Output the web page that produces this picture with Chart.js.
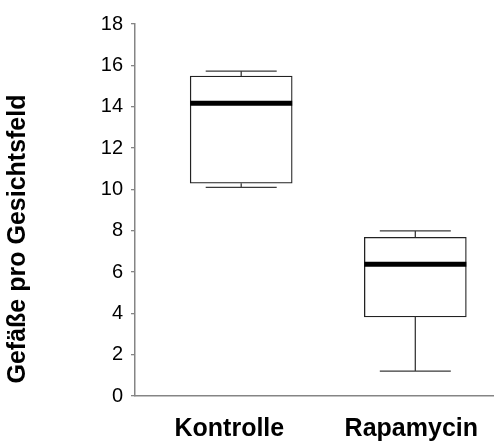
<!DOCTYPE html>
<html>
<head>
<meta charset="utf-8">
<script src="https://cdn.jsdelivr.net/npm/chart.js@4/dist/chart.umd.min.js"></script>
<style>
  html, body { margin: 0; padding: 0; background: #fff; }
  #wrap { width: 496px; height: 441px; }
</style>
</head>
<body>
<div id="wrap"><canvas id="c" width="496" height="441"></canvas></div>
<script>
// Box plot: vessels per field of view, control vs. rapamycin
const groups         = ['Kontrolle', 'Rapamycin'];
const positions      = [1, 2];
const labelPositions = [0.932, 1.977];
const minima         = [10.09, 1.20];
const q1             = [10.30, 3.83];
const medians        = [14.17, 6.37];
const q3             = [15.48, 7.68];
const maxima         = [15.72, 7.99];
const yTicks         = [0, 2, 4, 6, 8, 10, 12, 14, 16, 18];
const yTitle         = 'Gefäße pro Gesichtsfeld';

const FONT = '"Liberation Sans", Arial, Helvetica, sans-serif';
const AXIS_GREY = '#858585';

// whiskers, caps and median bars drawn on top of the boxes
const boxExtras = {
  id: 'boxExtras',
  afterDatasetsDraw(chart) {
    const { ctx, scales: { x, y } } = chart;
    const meta = chart.getDatasetMeta(0);
    ctx.save();
    groups.forEach((g, i) => {
      const cx = x.getPixelForValue(positions[i]);
      const half = meta.data[i].width / 2;
      const cap = 35.5;
      const yMax = y.getPixelForValue(maxima[i]);
      const yMin = y.getPixelForValue(minima[i]);
      const yQ1 = y.getPixelForValue(q1[i]);
      const yQ3 = y.getPixelForValue(q3[i]);
      ctx.strokeStyle = '#3a3a3a';
      ctx.lineWidth = 1.3;
      ctx.beginPath();
      ctx.moveTo(cx, yQ3); ctx.lineTo(cx, yMax);
      ctx.moveTo(cx - cap, yMax); ctx.lineTo(cx + cap, yMax);
      ctx.moveTo(cx, yQ1); ctx.lineTo(cx, yMin);
      ctx.moveTo(cx - cap, yMin); ctx.lineTo(cx + cap, yMin);
      ctx.stroke();
      const yMed = y.getPixelForValue(medians[i]);
      ctx.strokeStyle = '#000';
      ctx.lineWidth = 5;
      ctx.beginPath();
      ctx.moveTo(cx - half, yMed); ctx.lineTo(cx + half, yMed);
      ctx.stroke();
    });
    ctx.restore();
  }
};

// rotated y-axis title
const sideTitle = {
  id: 'sideTitle',
  afterDraw(chart) {
    const { ctx } = chart;
    ctx.save();
    ctx.translate(18, 239);
    ctx.rotate(-Math.PI / 2);
    ctx.font = 'bold 25px ' + FONT;
    ctx.fillStyle = '#000';
    ctx.textAlign = 'center';
    ctx.textBaseline = 'middle';
    ctx.fillText(yTitle, 0, 0);
    ctx.restore();
  }
};

new Chart(document.getElementById('c'), {
  type: 'bar',
  data: {
    datasets: [{
      data: groups.map((g, i) => ({ x: positions[i], y: [q1[i], q3[i]] })),
      backgroundColor: '#ffffff',
      borderColor: '#222222',
      borderWidth: 1.3,
      borderSkipped: false,
      barThickness: 102
    }]
  },
  options: {
    responsive: false,
    animation: false,
    devicePixelRatio: 1,
    layout: { padding: { top: 24, right: 0, bottom: 0, left: 0 } },
    plugins: { legend: { display: false }, tooltip: { enabled: false } },
    scales: {
      x: {
        type: 'linear',
        offset: false,
        min: 0.39,
        max: 2.447,
        afterFit(s) { s.height = 45; },
        afterBuildTicks(s) { s.ticks = labelPositions.map(v => ({ value: v })); },
        grid: { display: false, drawTicks: false, offset: false },
        border: { display: true, color: AXIS_GREY, width: 1.5 },
        ticks: {
          autoSkip: false,
          maxRotation: 0,
          padding: 18,
          color: '#000',
          font: { family: FONT, size: 25, weight: 'bold' },
          callback: (v) => groups[labelPositions.indexOf(v)] ?? ''
        }
      },
      y: {
        min: 0,
        max: 18,
        afterFit(s) { s.width = 135; },
        afterBuildTicks(s) { s.ticks = yTicks.map(v => ({ value: v })); },
        grid: { drawOnChartArea: false, drawTicks: true, tickLength: 4, color: AXIS_GREY, lineWidth: 1.3 },
        border: { display: true, color: AXIS_GREY, width: 1.5 },
        ticks: {
          padding: 8,
          color: '#000',
          font: { family: FONT, size: 20 }
        }
      }
    }
  },
  plugins: [boxExtras, sideTitle]
});
</script>
</body>
</html>
